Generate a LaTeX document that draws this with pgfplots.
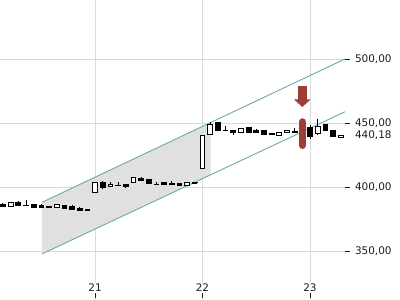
\documentclass[border=0pt]{standalone}
\usepackage{pgfplots}
\pgfplotsset{compat=1.18}
\usetikzlibrary{arrows.meta}
\usepackage{fontspec}
\setmainfont{DejaVu Sans}
\definecolor{chan}{RGB}{106,168,176}
\definecolor{chanfill}{RGB}{224,224,224}
\definecolor{redmark}{RGB}{158,60,54}
\definecolor{gridc}{RGB}{218,218,218}
\definecolor{txt}{RGB}{30,30,30}
% candle: x, low, body low, body high, high, body fill
\newcommand{\cndl}[6]{%
  \pgfmathsetmacro\xa{#1-0.022}\pgfmathsetmacro\xb{#1+0.022}%
  \edef\tmp{\noexpand\addplot[black, line width=0.8bp] coordinates {(#1,#2) (#1,#5)};
    \noexpand\addplot[draw=black, fill=#6, line width=0.8bp] coordinates {(\xa,#3) (\xb,#3) (\xb,#4) (\xa,#4)} -- cycle;}%
  \tmp}
\begin{document}
\begin{tikzpicture}
\begin{axis}[
  scale only axis, width=345bp, height=300bp,
  xmin=20.116, xmax=23.326, ymin=311.7, ymax=546.1,
  axis x line*=bottom, axis y line*=right,
  axis line style={draw=none},
  xtick={21,22,23}, xticklabels={21,22,23},
  ytick={350,400,450,500}, yticklabels={350{,}00,400{,}00,450{,}00,500{,}00},
  extra y ticks={440.18}, extra y tick labels={440{,}18},
  extra y tick style={grid=none, tick style={draw=none}},
  grid=major, grid style={color=gridc, line width=0.8bp},
  tick align=outside, major tick length=4.5bp,
  tick style={color=txt, line width=0.8bp},
  xtick style={yshift=7bp},
  tick label style={font=\fontsize{10.5}{12}\selectfont, text=txt},
  xticklabel style={anchor=south, yshift=11bp, fill=white, inner sep=1.5bp},
  yticklabel style={xshift=2bp},
  /pgf/number format/assume math mode=true,
]
% channel fill and lines
\addplot[fill=chanfill, draw=none] coordinates {(20.507,388.05) (22.076,450.4) (22.076,409.5) (20.507,347.7)} -- cycle;
\addplot[chan, line width=0.9bp] coordinates {(20.507,388.05) (23.326,500)};
\addplot[chan, line width=0.9bp] coordinates {(20.507,347.7) (23.326,458.8)};
\cndl{20.1429}{384.6}{384.7}{386.5}{387.7}{black}
\cndl{20.2143}{384.5}{385.2}{388.3}{388.5}{white}
\cndl{20.2857}{384.8}{385.5}{388.3}{389.0}{black}
\cndl{20.3571}{385.3}{385.5}{386.0}{389.5}{black}
\cndl{20.4286}{384.2}{384.3}{386.7}{386.8}{black}
\cndl{20.5000}{383.8}{383.9}{385.7}{387.0}{black}
\cndl{20.5714}{384.0}{384.1}{384.9}{385.0}{black}
\cndl{20.6429}{383.8}{383.9}{386.2}{386.3}{white}
\cndl{20.7143}{382.9}{383.0}{385.7}{385.8}{black}
\cndl{20.7857}{382.5}{382.6}{384.6}{385.7}{black}
\cndl{20.8571}{381.9}{382.0}{383.6}{384.6}{black}
\cndl{20.9286}{382.1}{382.2}{382.4}{382.5}{black}
\cndl{21.0000}{395.9}{396.1}{403.4}{404.0}{white}
\cndl{21.0714}{398.2}{399.8}{403.9}{404.9}{black}
\cndl{21.1429}{400.1}{400.2}{402.3}{403.9}{white}
\cndl{21.2143}{401.0}{401.1}{401.4}{403.9}{black}
\cndl{21.2857}{399.2}{400.6}{401.8}{401.9}{black}
\cndl{21.3571}{403.8}{403.9}{407.6}{407.7}{white}
\cndl{21.4286}{404.8}{404.9}{406.5}{408.1}{black}
\cndl{21.5000}{402.8}{402.9}{406.0}{406.5}{black}
\cndl{21.5714}{402.0}{402.1}{402.4}{403.9}{black}
\cndl{21.6429}{402.2}{402.3}{403.4}{403.5}{black}
\cndl{21.7143}{402.1}{402.2}{402.5}{404.5}{black}
\cndl{21.7857}{401.2}{401.3}{402.9}{403.0}{black}
\cndl{21.8571}{401.2}{401.3}{403.4}{404.0}{white}
\cndl{21.9286}{403.2}{403.3}{403.5}{403.6}{black}
\cndl{22.0000}{414.5}{414.6}{440.6}{441.0}{white}
\cndl{22.0714}{440.5}{440.9}{449.2}{451.0}{white}
\cndl{22.1429}{443.8}{444.0}{450.2}{450.5}{black}
\cndl{22.2143}{443.8}{443.9}{444.2}{447.7}{black}
\cndl{22.2857}{441.0}{443.0}{444.0}{444.1}{black}
\cndl{22.3571}{442.3}{442.4}{445.5}{445.6}{white}
\cndl{22.4286}{442.9}{443.0}{446.6}{447.1}{black}
\cndl{22.5000}{442.9}{443.0}{444.5}{445.5}{black}
\cndl{22.5714}{441.3}{441.4}{444.0}{444.5}{black}
\cndl{22.6429}{440.8}{440.9}{442.0}{442.1}{black}
\cndl{22.7143}{440.3}{440.4}{443.0}{443.1}{white}
\cndl{22.7857}{442.3}{442.4}{444.0}{444.1}{white}
\cndl{22.8571}{442.7}{442.8}{443.1}{446.1}{black}
\cndl{22.9286}{441.9}{442.0}{442.3}{442.4}{black}
\cndl{23.0000}{437.3}{439.3}{446.6}{448.7}{black}
\cndl{23.0714}{440.9}{442.0}{447.7}{453.4}{white}
\cndl{23.1429}{444.4}{444.5}{449.2}{449.5}{black}
\cndl{23.2143}{439.2}{439.3}{444.0}{444.1}{black}
\cndl{23.2857}{438.6}{438.8}{440.5}{440.6}{white}
% marker and arrow
\addplot[redmark, line width=7.5bp, line cap=round] coordinates {(22.9286,432.6) (22.9286,450.8)};
\addplot[redmark, line width=9bp, -{Triangle[width=16bp,length=7.5bp]}] coordinates {(22.9286,478.9) (22.9286,462.5)};
\end{axis}
\pgfresetboundingbox
\path (0,0) rectangle (400bp,300bp);
\end{tikzpicture}
\end{document}
